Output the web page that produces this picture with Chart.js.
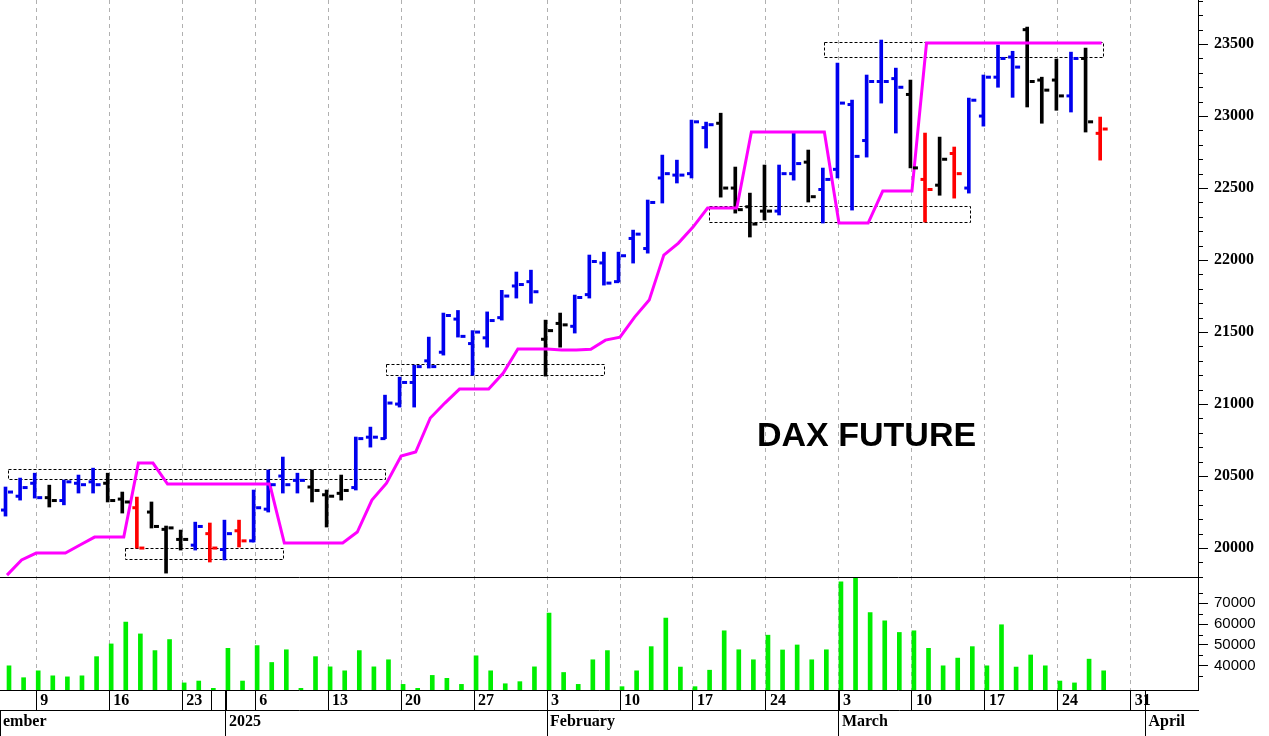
<!DOCTYPE html>
<html><head><meta charset="utf-8">
<script src="https://cdn.jsdelivr.net/npm/chart.js@4.4.1/dist/chart.umd.min.js"></script>
<style>html,body{margin:0;padding:0;background:#fff}#w{width:1269px;height:736px}</style>
</head><body><div id="w"><canvas id="c"></canvas></div>
<script>
// trading days Dec 5 2024 .. Mar 27 2025 (index 0..75), axis extends to Apr 4
const openP  = [20264,20360,20450,20350,20330,20450,20460,20450,20340,20280,20250,20130,20060,20020,20100,
 19990,20120,20050,20270,20500,20470,20424,20370,20380,20420,20770,20760,21000,21150,21300,21360,21590,21420,21460,21600,21820,21850,
 21450,21560,21540,21760,21980,21850,22150,22080,22570,22590,22600,22920,22950,22500,22370,22340,22340,22600,22680,22490,
 22630,23080,22830,23240,23260,23150,22560,22520,22740,22500,23000,23270,23410,23600,23250,23250,23140,23400,22880];
const highP  = [20424,20486,20520,20437,20472,20507,20555,20520,20389,20354,20320,20153,20125,20180,20174,
 20194,20194,20403,20542,20632,20520,20542,20403,20507,20771,20840,21062,21187,21270,21465,21632,21650,21510,21640,21790,21917,21930,
 21583,21632,21757,22035,22055,22055,22208,22417,22729,22694,22972,22958,23020,22646,22465,22660,22660,22882,22764,22639,
 23368,23111,23285,23528,23333,23250,22882,22854,22785,23125,23285,23493,23450,23618,23270,23396,23444,23472,22993];
const lowP   = [20222,20333,20347,20285,20300,20382,20382,20320,20243,20000,20139,19826,19986,19986,19903,
 19917,20007,20042,20250,20382,20382,20320,20146,20333,20403,20701,20760,20979,20979,21250,21340,21465,21200,21395,21583,21736,21700,
 21194,21395,21493,21736,21826,21847,21979,22048,22396,22535,22570,22778,22437,22326,22160,22278,22313,22555,22403,22257,
 22570,22347,22715,23090,22882,22640,22264,22450,22430,22465,22930,23200,23130,23063,22950,23040,23028,22889,22694];
const closeP = [20389,20420,20350,20330,20460,20440,20440,20330,20320,20000,20150,20140,20060,20150,20000,
 20100,20050,20280,20440,20440,20470,20400,20360,20400,20760,20770,21007,21150,21260,21260,21615,21470,21500,21580,21750,21830,21780,
 21510,21550,21740,21990,21840,22030,22180,22400,22600,22590,22960,22940,22500,22350,22250,22340,22600,22670,22440,22560,
 23090,22720,23240,23240,23200,22640,22490,22700,22600,23110,23270,23400,23340,23240,23180,23140,23400,22960,22910];
const barColor = "bbbkbbbkkrkkkbrbrbbbbkkkbbbbbbbbbbbbbkkbbbbbbbbbbkkkkbbkbbbbbbkrkrbbbbkkkbkr";
const stopLine = [19812,19917,19965,19965,19965,20021,20076,20076,20076,20590,20590,20444,20444,20444,20444,
 20444,20444,20444,20444,20035,20035,20035,20035,20035,20111,20333,20451,20639,20667,20903,21007,21104,21104,21104,21215,21382,21382,
 21382,21375,21375,21380,21444,21465,21604,21722,22035,22118,22229,22361,22361,22361,22889,22889,22889,22889,22889,22889,
 22257,22257,22257,22479,22479,22479,23507,23507,23507,23507,23507,23507,23507,23507,23507,23507,23507,23507,23507];
const volume = [40000,34300,37600,35200,34700,35200,44400,50500,61000,55300,47300,52600,31800,32700,29200,
 48400,32700,49700,41600,47700,29200,44400,39500,37600,47300,39500,42900,31100,29200,35400,34000,31100,44800,37600,31400,32400,39500,
 65300,36800,31100,42900,47300,30000,37600,49200,62900,39400,30000,37900,56800,47700,42900,54700,47600,50000,42900,47700,
 80300,82700,65500,61600,56000,56800,48400,40000,43700,49200,40000,59700,39400,45200,40000,32700,31800,43200,37600];
// day-row ticks: index -> label ('' = separator only)
const dayTickIdx = [2,7,12,14,15,17,22,27,32,37,42,47,52,57,62,67,72,77,78];
const dayTickLbl = ['9','16','23','','','6','13','20','27','3','10','17','24','3','10','17','24','31',''];
const mondayIdx = [2,7,12,17,22,27,32,37,42,47,52,57,62,67,72,77];
const monthIdx = [-0.48,15,37,57,78];
const monthLbl = ['ember','2025','February','March','April'];
// dashed boxes: [fromIdx,toIdx,low,high]
const zones = [[0.07,25.9,20480,20550],[8.1,18.9,19924,20000],[26.0,40.96,21201,21278],[48.1,66.0,22264,22375],[56.0,75.1,23410,23514]];
const priceTicks = [20000,20500,21000,21500,22000,22500,23000,23500];
const volTicks = [40000,50000,60000,70000];

const colMap = {b:'#0000ee',k:'#000000',r:'#ff0000'};
const n = openP.length;
const hl = [], st = [], vb = [];
for (let i=0;i<n;i++){ hl.push({x:i,y:[lowP[i],highP[i]]}); st.push({x:i,y:stopLine[i]}); vb.push({x:i,y:volume[i]}); }
const cols = [...barColor].map(c=>colMap[c]);

const serifB = {family:'"Liberation Serif","Times New Roman",serif',size:16,weight:'bold'};
const fixW = s=>{s.width=71; s.paddingTop=0; s.paddingBottom=0;};
const noPadX = h=>s=>{s.height=h; s.paddingLeft=0; s.paddingRight=0;};

const drawPlugin = {
  id:'ohlc',
  beforeDatasetsDraw(ch){
    const ctx=ch.ctx, x=ch.scales.x, y=ch.scales.y, ca=ch.chartArea;
    ctx.save();
    ctx.beginPath(); ctx.rect(ca.left,ca.top,ca.right-ca.left,y.bottom-ca.top); ctx.clip();
    ctx.setLineDash([3,2]); ctx.strokeStyle='#000'; ctx.lineWidth=1;
    zones.forEach(z=>{
      const x0=x.getPixelForValue(z[0]), x1=x.getPixelForValue(z[1]);
      const y0=y.getPixelForValue(z[3]), y1=y.getPixelForValue(z[2]);
      ctx.strokeRect(Math.round(x0)+0.5,Math.round(y0)+0.5,Math.round(x1-x0),Math.round(y1-y0));
    });
    ctx.restore();
  },
  afterDatasetsDraw(ch){
    const ctx=ch.ctx, x=ch.scales.x, y=ch.scales.y, yv=ch.scales.yv;
    ctx.save();
    for(let i=0;i<n;i++){
      const px=x.getPixelForValue(i);
      ctx.fillStyle=cols[i];
      ctx.fillRect(px-6,y.getPixelForValue(openP[i])-1.5,5,3);
      ctx.fillRect(px+1,y.getPixelForValue(closeP[i])-1.5,5,3);
    }
    ctx.strokeStyle='#000'; ctx.lineWidth=1; ctx.setLineDash([]);
    ctx.beginPath(); ctx.moveTo(0,Math.round(yv.top)+0.5); ctx.lineTo(y.left,Math.round(yv.top)+0.5);
    ctx.moveTo(0,Math.round(x.top)+0.5); ctx.lineTo(y.left,Math.round(x.top)+0.5);
    for(let v=19800;v<=23800;v+=100){ if(v%500===0) continue; const py=Math.round(y.getPixelForValue(v))+0.5; ctx.moveTo(y.left,py); ctx.lineTo(y.left+5,py);}
    for(let v=30000;v<=80000;v+=5000){ if(v%10000===0) continue; const py=Math.round(yv.getPixelForValue(v))+0.5; ctx.moveTo(yv.left,py); ctx.lineTo(yv.left+5,py);}
    monthIdx.slice(1).forEach(m=>{const px=Math.round(x.getPixelForValue(m))+0.5; ctx.moveTo(px,x.top); ctx.lineTo(px,x.bottom);});
    ctx.stroke();
    ctx.fillStyle='#000'; ctx.font='bold 34px "Liberation Sans",Arial,sans-serif'; ctx.textBaseline='middle';
    ctx.fillText('DAX FUTURE',757,437);
    ctx.restore();
  }
};

new Chart(document.getElementById('c'),{
  data:{datasets:[
    {type:'line',data:st,yAxisID:'y',borderColor:'#ff00ff',borderWidth:3,pointRadius:0,order:1},
    {type:'bar',data:hl,yAxisID:'y',backgroundColor:cols,barThickness:3,order:2},
    {type:'bar',data:vb,yAxisID:'yv',backgroundColor:'#00ee00',barThickness:4,order:3}
  ]},
  options:{
    responsive:true,maintainAspectRatio:false,animation:false,
    layout:{padding:0},
    plugins:{legend:{display:false},tooltip:{enabled:false}},
    scales:{
      x:{type:'linear',position:'bottom',min:-0.48,max:81.6,offset:false,
        afterBuildTicks:s=>{s.ticks=dayTickIdx.map(v=>({value:v}));},
        afterFit:noPadX(20),
        ticks:{callback:(v,i)=>dayTickLbl[i],align:'start',labelOffset:4,padding:-19,maxRotation:0,autoSkip:false,color:'#000',font:serifB},
        grid:{offset:false,color:c=>mondayIdx.includes(c.tick&&c.tick.value)?'#b0b0b0':'rgba(0,0,0,0)',tickColor:'#000',tickBorderDash:[],tickLength:20},
        border:{display:false,dash:[4,4]}},
      x2:{type:'linear',position:'bottom',min:-0.48,max:81.6,offset:false,
        afterBuildTicks:s=>{s.ticks=monthIdx.map(v=>({value:v}));},
        afterFit:noPadX(26),
        ticks:{callback:(v,i)=>monthLbl[i],align:'start',labelOffset:3,padding:-24,maxRotation:0,autoSkip:false,color:'#000',font:serifB},
        grid:{offset:false,drawOnChartArea:false,color:'#000',tickLength:26},
        border:{color:'#000'}},
      y:{type:'linear',position:'right',stack:'p',stackWeight:577,min:19799,max:23806,
        afterBuildTicks:s=>{s.ticks=priceTicks.map(v=>({value:v}));},
        afterFit:fixW,
        ticks:{color:'#000',font:serifB,padding:6,autoSkip:false,callback:v=>String(v)},
        grid:{drawOnChartArea:false,color:'#000',tickLength:10},
        border:{color:'#000'}},
      yv:{type:'linear',position:'right',stack:'p',stackWeight:113,min:28400,max:82600,offset:false,
        afterBuildTicks:s=>{s.ticks=volTicks.map(v=>({value:v}));},
        afterFit:fixW,
        ticks:{color:'#000',font:{family:'"Liberation Sans",Arial,sans-serif',size:15},padding:6,autoSkip:false,callback:v=>String(v)},
        grid:{drawOnChartArea:false,color:'#000',tickLength:10},
        border:{color:'#000'}}
    }
  },
  plugins:[drawPlugin]
});
</script></body></html>
